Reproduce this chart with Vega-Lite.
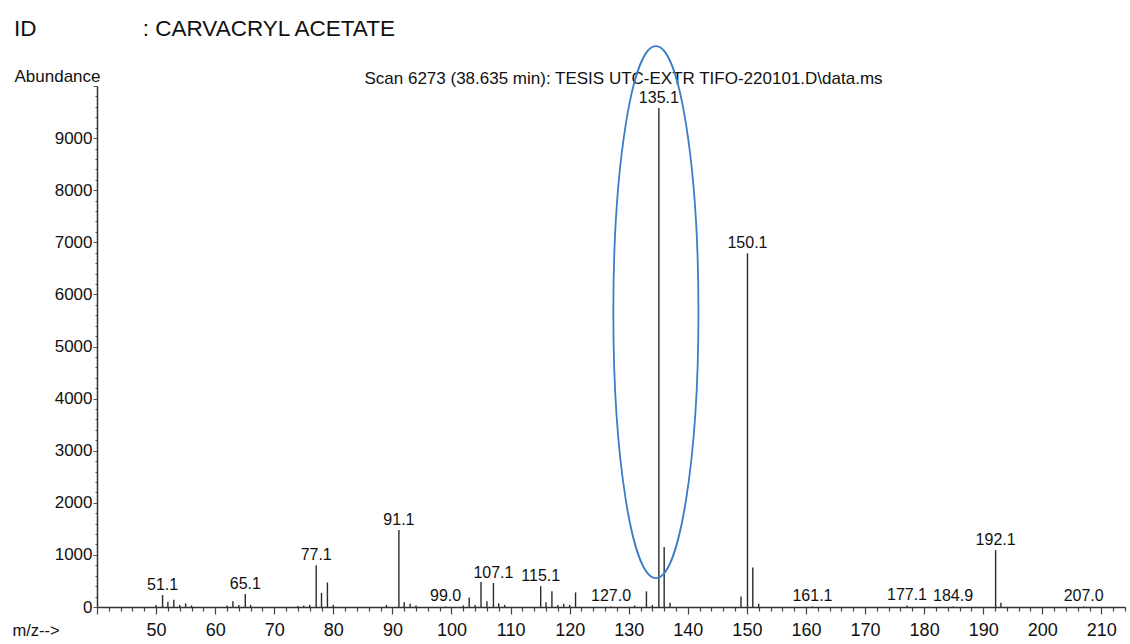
{
  "$schema": "https://vega.github.io/schema/vega-lite/v6.json",
  "width": 1028,
  "height": 521,
  "autosize": "none",
  "padding": {"left": 97, "top": 86, "right": 5, "bottom": 37},
  "background": "white",
  "config": {"font": "Liberation Sans", "view": {"stroke": null}},
  "title": {
    "text": "ID\u00a0\u00a0\u00a0\u00a0\u00a0\u00a0\u00a0\u00a0\u00a0\u00a0\u00a0\u00a0\u00a0\u00a0\u00a0\u00a0\u00a0: CARVACRYL ACETATE",
    "anchor": "start",
    "frame": "group",
    "dx": -83,
    "fontSize": 22.5,
    "fontWeight": "normal",
    "color": "#111111",
    "baseline": "alphabetic",
    "offset": -16
  },
  "datasets": {
    "peaks": [
      {"mz": 50, "abundance": 40},
      {"mz": 51.1, "abundance": 230, "label": "51.1"},
      {"mz": 52, "abundance": 100},
      {"mz": 53, "abundance": 140},
      {"mz": 54, "abundance": 40},
      {"mz": 55, "abundance": 70},
      {"mz": 56, "abundance": 30},
      {"mz": 62, "abundance": 30},
      {"mz": 63, "abundance": 110},
      {"mz": 64, "abundance": 40},
      {"mz": 65.1, "abundance": 250, "label": "65.1"},
      {"mz": 66, "abundance": 40},
      {"mz": 74, "abundance": 20},
      {"mz": 75, "abundance": 30},
      {"mz": 76, "abundance": 40},
      {"mz": 77.1, "abundance": 800, "label": "77.1"},
      {"mz": 78, "abundance": 270},
      {"mz": 79, "abundance": 470},
      {"mz": 80, "abundance": 40},
      {"mz": 89, "abundance": 40},
      {"mz": 91.1, "abundance": 1480, "label": "91.1"},
      {"mz": 92, "abundance": 90},
      {"mz": 93, "abundance": 60},
      {"mz": 94, "abundance": 30},
      {"mz": 99.0, "abundance": 10, "label": "99.0"},
      {"mz": 102, "abundance": 30},
      {"mz": 103, "abundance": 180},
      {"mz": 104, "abundance": 40},
      {"mz": 105, "abundance": 480},
      {"mz": 106, "abundance": 110},
      {"mz": 107.1, "abundance": 460, "label": "107.1"},
      {"mz": 108, "abundance": 70},
      {"mz": 109, "abundance": 40},
      {"mz": 115.1, "abundance": 400, "label": "115.1"},
      {"mz": 116, "abundance": 90},
      {"mz": 117, "abundance": 300},
      {"mz": 118, "abundance": 40},
      {"mz": 119, "abundance": 60},
      {"mz": 120, "abundance": 40},
      {"mz": 121, "abundance": 280},
      {"mz": 127.0, "abundance": 10, "label": "127.0"},
      {"mz": 131, "abundance": 30},
      {"mz": 133, "abundance": 300},
      {"mz": 134, "abundance": 40},
      {"mz": 135.1, "abundance": 9580, "label": "135.1"},
      {"mz": 136, "abundance": 1150},
      {"mz": 137, "abundance": 80},
      {"mz": 149, "abundance": 200},
      {"mz": 150.1, "abundance": 6790, "label": "150.1"},
      {"mz": 151, "abundance": 760},
      {"mz": 152, "abundance": 60},
      {"mz": 161.1, "abundance": 10, "label": "161.1"},
      {"mz": 177.1, "abundance": 30, "label": "177.1"},
      {"mz": 184.9, "abundance": 10, "label": "184.9"},
      {"mz": 192.1, "abundance": 1090, "label": "192.1"},
      {"mz": 193, "abundance": 80},
      {"mz": 207.0, "abundance": 10, "label": "207.0"}
    ],
    "highlight": [{"mz": 134.6, "abundance": 5660}]
  },
  "layer": [
    {
      "data": {"name": "peaks"},
      "mark": {"type": "rule", "color": "#2a2a2a", "strokeWidth": 1.4},
      "encoding": {
        "x": {
          "field": "mz",
          "type": "quantitative",
          "scale": {"domain": [40, 214], "nice": false, "zero": false},
          "axis": {
            "orient": "bottom",
            "values": [40,42,44,46,48,50,52,54,56,58,60,62,64,66,68,70,72,74,76,78,80,82,84,86,88,90,92,94,96,98,100,102,104,106,108,110,112,114,116,118,120,122,124,126,128,130,132,134,136,138,140,142,144,146,148,150,152,154,156,158,160,162,164,166,168,170,172,174,176,178,180,182,184,186,188,190,192,194,196,198,200,202,204,206,208,210,212,214],
            "format": "d",
            "labelExpr": "datum.value % 10 == 0 && datum.value > 40 ? datum.label : ''",
            "labelOverlap": false,
            "labelFlush": false,
            "labelBound": false,
            "labelFontSize": 18,
            "labelColor": "#111111",
            "labelPadding": 7,
            "labelBaseline": "top",
            "tickSize": {"condition": {"test": "datum.value % 10 == 0", "value": 7}, "value": 4},
            "tickColor": "#444444",
            "tickWidth": 1.2,
            "domainColor": "#333333",
            "domainWidth": 1.5,
            "grid": false,
            "title": "m/z-->",
            "titleFontSize": 16.5,
            "titleFontWeight": "normal",
            "titleColor": "#111111",
            "titleAlign": "left",
            "titleBaseline": "alphabetic",
            "titleAnchor": "start",
            "titleX": -85,
            "titleY": 28
          }
        },
        "y": {
          "field": "abundance",
          "type": "quantitative",
          "scale": {"domain": [0, 10000], "nice": false},
          "axis": {
            "orient": "left",
            "values": [0,200,400,600,800,1000,1200,1400,1600,1800,2000,2200,2400,2600,2800,3000,3200,3400,3600,3800,4000,4200,4400,4600,4800,5000,5200,5400,5600,5800,6000,6200,6400,6600,6800,7000,7200,7400,7600,7800,8000,8200,8400,8600,8800,9000,9200,9400,9600,9800,10000],
            "format": "d",
            "labelExpr": "datum.value % 1000 == 0 && datum.value < 10000 ? datum.label : ''",
            "labelOverlap": false,
            "labelFlush": false,
            "labelBound": false,
            "labelFontSize": 17,
            "labelColor": "#111111",
            "labelPadding": 1,
            "tickSize": {"condition": {"test": "datum.value % 1000 == 0", "value": 4}, "value": 2},
            "tickColor": "#555555",
            "domainColor": "#333333",
            "domainWidth": 1.5,
            "grid": false,
            "title": "Abundance",
            "titleAngle": 0,
            "titleFontSize": 17,
            "titleFontWeight": "normal",
            "titleColor": "#111111",
            "titleAlign": "left",
            "titleBaseline": "alphabetic",
            "titleX": -83,
            "titleY": -5
          }
        },
        "y2": {"datum": 0}
      }
    },
    {
      "data": {"name": "peaks"},
      "transform": [{"filter": "datum.label != null"}],
      "mark": {"type": "text", "baseline": "alphabetic", "align": "center", "dy": -5, "fontSize": 16, "color": "#111111"},
      "encoding": {
        "x": {
          "field": "mz",
          "type": "quantitative",
          "axis": {
            "orient": "top",
            "domain": false,
            "ticks": false,
            "labels": false,
            "grid": false,
            "title": "Scan 6273 (38.635 min): TESIS UTC-EXTR TIFO-220101.D\\data.ms",
            "titleFontSize": 17,
            "titleFontWeight": "normal",
            "titleColor": "#111111",
            "titleAlign": "center",
            "titleBaseline": "alphabetic",
            "titleX": 526,
            "titleY": -3
          }
        },
        "y": {"field": "abundance", "type": "quantitative", "axis": null},
        "text": {"field": "label", "type": "nominal"}
      }
    },
    {
      "data": {"name": "highlight"},
      "mark": {
        "type": "point",
        "shape": "M0,-1A0.16,1,0,1,1,0,1A0.16,1,0,1,1,0,-1Z",
        "size": 283024,
        "filled": false,
        "stroke": "#3d7cc9",
        "strokeWidth": 1.8,
        "opacity": 1
      },
      "encoding": {
        "x": {"field": "mz", "type": "quantitative", "axis": null},
        "y": {"field": "abundance", "type": "quantitative", "axis": null}
      }
    }
  ],
  "resolve": {"axis": {"x": "independent", "y": "independent"}}
}
